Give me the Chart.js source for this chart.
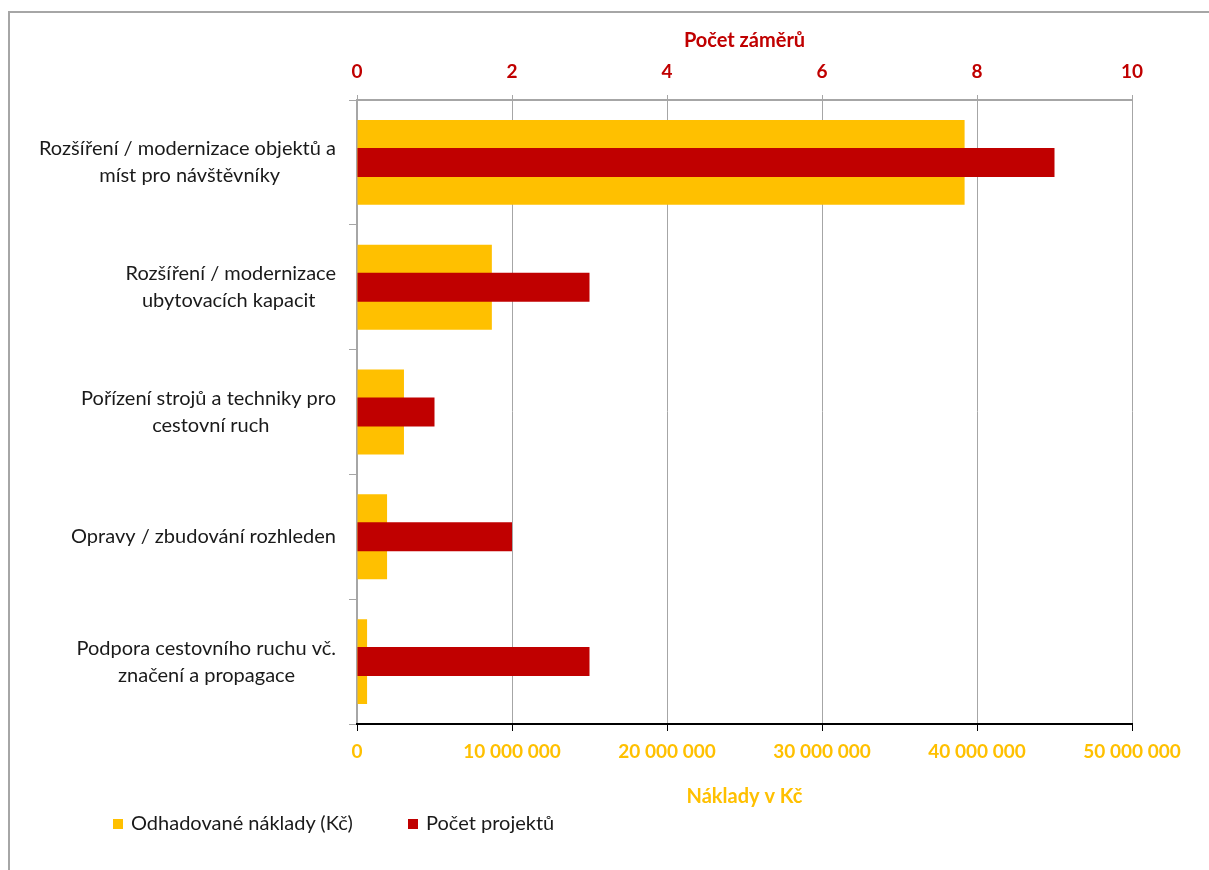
<!DOCTYPE html>
<html>
<head>
<meta charset="utf-8">
<script src="https://cdn.jsdelivr.net/npm/chart.js@4"></script>
<style>
  html, body { margin: 0; padding: 0; background: #fff; }
  #wrap { position: relative; width: 1209px; height: 870px; overflow: hidden; }
  #frame { position: absolute; left: 8px; top: 11px; width: 1210px; height: 870px;
           border-left: 2px solid #A6A6A6; border-top: 2px solid #A6A6A6; box-sizing: border-box; }
  canvas { position: absolute; left: 0; top: 0; }
  #legend { position: absolute; top: 809px; left: 113px; font-family: Lato, "Open Sans", sans-serif;
            font-size: 20px; color: #1a1a1a; white-space: nowrap; }
  #legend span.item { position: absolute; top: 0; line-height: 26px; }
  #legend i { display: inline-block; width: 10px; height: 10px; margin-right: 8px; vertical-align: 1px; }
</style>
</head>
<body>
<div id="wrap">
  <div id="frame"></div>
  <canvas id="c" width="1209" height="870"></canvas>
  <div id="legend"></div>
</div>
<script>
const categories = [
  ["Rozšíření / modernizace objektů a", "míst pro návštěvníky"],
  ["Rozšíření / modernizace", "ubytovacích kapacit"],
  ["Pořízení strojů a techniky pro", "cestovní ruch"],
  ["Opravy / zbudování rozhleden"],
  ["Podpora cestovního ruchu vč.", "značení a propagace"]
];
const costValues = [39200000, 8700000, 3030000, 1940000, 650000];
const countValues = [9, 3, 1, 2, 3];
const seriesNames = ["Odhadované náklady (Kč)", "Počet projektů"];
const costAxisTitle = "Náklady v Kč";
const countAxisTitle = "Počet záměrů";

const YELLOW = "#FFC000";
const RED = "#C00000";
const GRID = "#A6A6A6";
const FONT = "Lato, 'Open Sans', sans-serif";
const CAT_SIZE = 20;

function fmtSpaces(v) {
  return String(Math.round(v)).replace(/\B(?=(\d{3})+(?!\d))/g, " ");
}

// center the lines of each multi-line category label within its own block
const mctx = document.createElement("canvas").getContext("2d");
mctx.font = CAT_SIZE + "px " + FONT;
const NBSP = "\u00A0";
function centeredLines(lines) {
  const widths = lines.map(l => mctx.measureText(l).width);
  const maxW = Math.max(...widths);
  const sp = mctx.measureText(NBSP).width || 5;
  return lines.map((l, i) => l + NBSP.repeat(Math.round((maxW - widths[i]) / 2 / sp)));
}

const legend = document.getElementById("legend");
[[seriesNames[0], YELLOW, 0], [seriesNames[1], RED, 295]].forEach(([t, c, x]) => {
  const s = document.createElement("span");
  s.className = "item";
  s.style.left = x + "px";
  s.innerHTML = '<i style="background:' + c + '"></i>' + t;
  legend.appendChild(s);
});

document.fonts.load(CAT_SIZE + "px Lato").then(() => {
  mctx.font = CAT_SIZE + "px " + FONT;
  draw();
}, draw);

function draw() {
new Chart(document.getElementById("c"), {
  type: "bar",
  data: {
    labels: categories,
    datasets: [
      {
        label: seriesNames[0], data: costValues, xAxisID: "x", yAxisID: "y",
        backgroundColor: YELLOW, grouped: false, order: 1,
        categoryPercentage: 1, barPercentage: 0.68
      },
      {
        label: seriesNames[1], data: countValues, xAxisID: "x2", yAxisID: "y",
        backgroundColor: RED, grouped: false, order: 0,
        categoryPercentage: 1, barPercentage: 0.232
      }
    ]
  },
  options: {
    indexAxis: "y",
    responsive: false,
    animation: false,
    devicePixelRatio: 1,
    layout: { padding: { left: 0, right: 77, top: 25, bottom: 57 } },
    plugins: { legend: { display: false }, tooltip: { enabled: false } },
    scales: {
      y: {
        position: "left",
        afterFit: (s) => { s.width = 357; },
        grid: { drawOnChartArea: false, color: GRID, tickLength: 8, offset: true },
        border: { color: GRID, width: 2 },
        ticks: { color: "#1a1a1a", font: { family: FONT, size: CAT_SIZE, lineHeight: 1.35 },
                 padding: 13, crossAlign: "near",
                 callback: (v, i) => centeredLines(categories[i]) }
      },
      x: {
        position: "bottom", min: 0, max: 50000000,
        afterFit: (s) => { s.height = 89; },
        grid: { color: GRID, tickColor: "#000", tickLength: 7, lineWidth: 1 },
        border: { color: "#000", width: 2 },
        ticks: { stepSize: 10000000, color: YELLOW, font: { family: FONT, size: 19, weight: "bold" },
                 padding: 9, callback: (v) => fmtSpaces(v) },
        title: { display: true, text: costAxisTitle, color: YELLOW,
                 font: { family: FONT, size: 20, weight: "bold" }, padding: { top: 4, bottom: 4 } }
      },
      x2: {
        position: "top", min: 0, max: 10,
        afterFit: (s) => { s.height = 75; },
        grid: { drawOnChartArea: false, color: GRID, tickLength: 5 },
        border: { color: GRID, width: 2 },
        ticks: { stepSize: 2, color: RED, font: { family: FONT, size: 19, weight: "bold" }, padding: 12 },
        title: { display: true, text: countAxisTitle, color: RED,
                 font: { family: FONT, size: 20, weight: "bold" }, padding: { top: 4, bottom: 4 } }
      }
    }
  }
});
}
</script>
</body>
</html>
